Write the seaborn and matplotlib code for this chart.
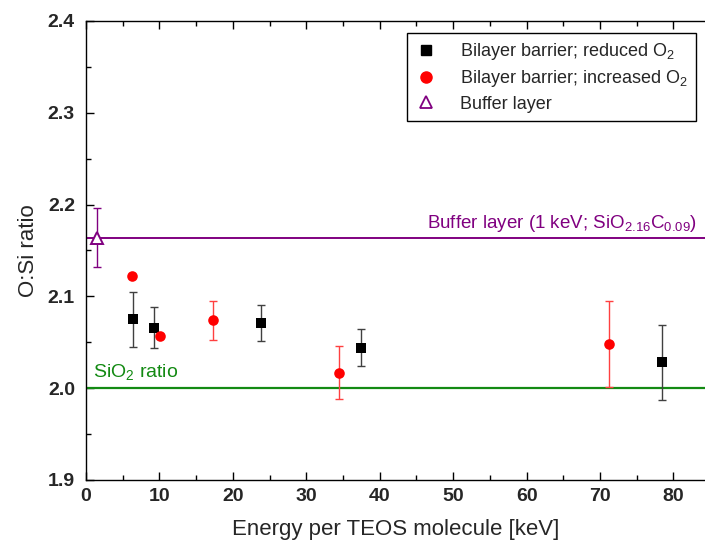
import numpy as np
import pandas as pd
import matplotlib
matplotlib.use("Agg")
import matplotlib.pyplot as plt
from matplotlib.ticker import MultipleLocator, FormatStrFormatter
from matplotlib.lines import Line2D
import seaborn as sns

# Bilayer barrier deposited with reduced O2 flow
reduced_energy = [6.4, 9.2, 23.9, 37.4, 78.5]
reduced_ratio = [2.075, 2.066, 2.071, 2.044, 2.028]
reduced_err = [0.030, 0.022, 0.020, 0.020, 0.041]

# Bilayer barrier deposited with increased O2 flow
increased_energy = [6.3, 10.1, 17.3, 34.5, 71.2]
increased_ratio = [2.122, 2.057, 2.074, 2.017, 2.048]
increased_err = [0.0, 0.0, 0.021, 0.0285, 0.047]

# Buffer layer
buffer_energy = [1.45]
buffer_ratio = [2.164]
buffer_err = [0.032]

buffer_level = 2.164
sio2_level = 2.0

sns.set_style("white")
plt.rcParams["font.family"] = ["Liberation Sans", "DejaVu Sans"]
plt.rcParams["mathtext.fontset"] = "custom"
plt.rcParams["mathtext.rm"] = "Liberation Sans"
plt.rcParams["mathtext.it"] = "Liberation Sans:italic"
plt.rcParams["mathtext.bf"] = "Liberation Sans:bold"

BLACK = "#000000"
RED = "#ff0000"
PURPLE = "#800080"
GREEN = "#138a13"

fig = plt.figure(figsize=(7.05, 5.49), dpi=100)
ax = fig.add_axes([86 / 705, 1 - 480 / 549, 619 / 705, (480 - 21) / 549])

reduced = pd.DataFrame({"energy": reduced_energy, "ratio": reduced_ratio})
increased = pd.DataFrame({"energy": increased_energy, "ratio": increased_ratio})

# reference levels
ax.axhline(buffer_level, color=PURPLE, lw=1.4, zorder=1)
ax.axhline(sio2_level, color=GREEN, lw=1.6, zorder=1)

# error bars
ax.errorbar(reduced_energy, reduced_ratio, yerr=reduced_err, fmt="none",
            ecolor="#404040", elinewidth=1.0, capsize=3, capthick=1.0, zorder=2)
inc_mask = np.array(increased_err) > 0
ax.errorbar(np.array(increased_energy)[inc_mask], np.array(increased_ratio)[inc_mask],
            yerr=np.array(increased_err)[inc_mask], fmt="none",
            ecolor="#ff4040", elinewidth=1.0, capsize=3, capthick=1.0, zorder=2)
ax.errorbar(buffer_energy, buffer_ratio, yerr=buffer_err, fmt="none",
            ecolor=PURPLE, elinewidth=1.0, capsize=3, capthick=1.0, zorder=2)

sns.scatterplot(data=reduced, x="energy", y="ratio", ax=ax, marker="s",
                color=BLACK, s=45, edgecolor=BLACK, linewidth=0, zorder=3)
sns.scatterplot(data=increased, x="energy", y="ratio", ax=ax, marker="o",
                color=RED, s=58, edgecolor=RED, linewidth=0, zorder=3)
ax.plot(buffer_energy, buffer_ratio, linestyle="none", marker="^", ms=8.5,
        mfc="white", mec=PURPLE, mew=1.4, zorder=4)

ax.set_xlim(0, 84.3)
ax.set_ylim(1.9, 2.4)
ax.xaxis.set_major_locator(MultipleLocator(10))
ax.xaxis.set_minor_locator(MultipleLocator(5))
ax.yaxis.set_major_locator(MultipleLocator(0.1))
ax.yaxis.set_minor_locator(MultipleLocator(0.05))
ax.yaxis.set_major_formatter(FormatStrFormatter("%.1f"))

ax.tick_params(which="both", direction="in", top=True, bottom=True, left=True,
               right=False, width=1.0, color="black")
ax.tick_params(which="major", length=6, labelsize=14)
ax.tick_params(axis="y", which="major", pad=8)
ax.tick_params(axis="x", which="major", pad=6)
ax.tick_params(which="minor", length=3.5)
for lbl in ax.get_xticklabels() + ax.get_yticklabels():
    lbl.set_fontweight("bold")

for side in ["left", "bottom", "top"]:
    ax.spines[side].set_color("black")
    ax.spines[side].set_linewidth(1.0)
ax.spines["right"].set_visible(False)

ax.set_xlabel("Energy per TEOS molecule [keV]", fontsize=16, labelpad=10)
ax.set_ylabel("O:Si ratio", fontsize=16, labelpad=6)

ax.text(83.2, buffer_level + 0.004, r"Buffer layer (1 keV; SiO$_{2.16}$C$_{0.09}$)",
        color=PURPLE, fontsize=13.5, ha="right", va="bottom")
ax.text(0.9, sio2_level + 0.007, r"SiO$_2$ ratio", color=GREEN, fontsize=14,
        ha="left", va="bottom")

handles = [
    Line2D([], [], linestyle="none", marker="s", ms=7, color=BLACK),
    Line2D([], [], linestyle="none", marker="o", ms=8, color=RED),
    Line2D([], [], linestyle="none", marker="^", ms=8, mfc="white", mec=PURPLE, mew=1.3),
]
labels = [r"Bilayer barrier; reduced O$_2$",
          r"Bilayer barrier; increased O$_2$",
          "Buffer layer"]
leg = ax.legend(handles, labels, loc="upper right", bbox_to_anchor=(0.985, 0.974),
                fontsize=13, frameon=True, fancybox=False, framealpha=1,
                edgecolor="black", borderpad=0.45, handlelength=1.2,
                handletextpad=1.3, labelspacing=0.35, borderaxespad=0)
leg.get_frame().set_linewidth(1.0)

fig.savefig("out.png", dpi=100)
